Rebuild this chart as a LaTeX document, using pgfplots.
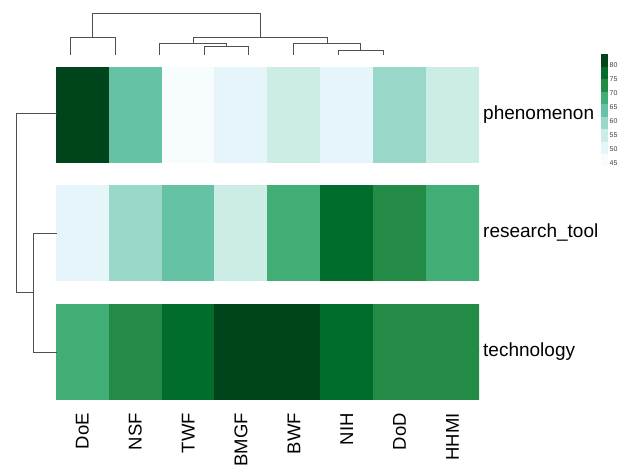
\documentclass[border=0pt]{standalone}
\usepackage{fontspec}
\setmainfont{Liberation Sans}
\usepackage{pgfplots}
\pgfplotsset{compat=1.18}
\usepackage{pgfplotstable}

% columns: 0 DoE,1 NSF,2 TWF,3 BMGF,4 BWF,5 NIH,6 DoD,7 HHMI
\pgfplotstableread{
x y c
0 260.75 82
1 260.75 64
2 260.75 46
3 260.75 51
4 260.75 55
5 260.75 50
6 260.75 60
7 260.75 55
0 308.25 82
1 308.25 64
2 308.25 46
3 308.25 51
4 308.25 55
5 308.25 50
6 308.25 60
7 308.25 55
}\phen
\pgfplotstableread{
x y c
0 142.75 51
1 142.75 60
2 142.75 64
3 142.75 55
4 142.75 68
5 142.75 77
6 142.75 73
7 142.75 68
0 190.25 51
1 190.25 60
2 190.25 64
3 190.25 55
4 190.25 68
5 190.25 77
6 190.25 73
7 190.25 68
}\rtool
\pgfplotstableread{
x y c
0 23.75 68
1 23.75 73
2 23.75 77
3 23.75 82
4 23.75 82
5 23.75 77
6 23.75 73
7 23.75 73
0 71.25 68
1 71.25 73
2 71.25 77
3 71.25 82
4 71.25 82
5 71.25 77
6 71.25 73
7 71.25 73
}\tech

\definecolor{dend}{RGB}{80,80,80}

\begin{document}
\begin{tikzpicture}
\begin{axis}[
  at={(56pt,-399pt)}, anchor=south west,
  scale only axis, width=423pt, height=332pt,
  xmin=-0.5, xmax=7.5, ymin=0, ymax=332,
  enlargelimits=false,
  axis line style={draw=none},
  major tick length=0pt, tick style={draw=none},
  colormap={bugn}{rgb255=(247,252,253) rgb255=(229,245,249) rgb255=(204,236,230)
    rgb255=(153,216,201) rgb255=(102,194,164) rgb255=(65,174,118)
    rgb255=(35,139,69) rgb255=(0,109,44) rgb255=(0,68,27)},
  colormap access=piecewise constant,
  point meta min=44, point meta max=84,
  xtick={0,...,7},
  xticklabels={DoE,NSF,TWF,BMGF,BWF,NIH,DoD,HHMI},
  xticklabel style={yshift=-14pt, rotate=90, anchor=east, inner sep=0pt,
    font=\fontsize{18.5}{20}\selectfont},
  ytick={47.5,166.5,284.5},
  yticklabels={technology,research\_tool,phenomenon},
  yticklabel pos=right,
  yticklabel style={anchor=west, inner sep=0pt, xshift=4pt,
    font=\fontsize{19}{22}\selectfont},
  colorbar,
  colorbar style={
    at={(parent axis.north east)}, anchor=north west,
    xshift=113pt, yshift=13pt,
    scale only axis, width=7pt, height=112pt,
    axis line style={draw=none},
    major tick length=0pt, tick style={draw=none},
    ytick={45,50,...,80},
    yticklabel style={font=\fontsize{7}{8}\selectfont, inner sep=0pt, xshift=2pt,
      text=black!75},
    /pgf/number format/assume math mode=true,
  },
]
\addplot[matrix plot*, mesh/cols=8, point meta=explicit] table[x=x, y=y, meta=c] {\phen};
\addplot[matrix plot*, mesh/cols=8, point meta=explicit] table[x=x, y=y, meta=c] {\rtool};
\addplot[matrix plot*, mesh/cols=8, point meta=explicit] table[x=x, y=y, meta=c] {\tech};
\end{axis}

\begin{axis}[
  at={(0pt,0pt)}, anchor=north west,
  scale only axis, width=618pt, height=465pt,
  xmin=0, xmax=618, ymin=0, ymax=465, y dir=reverse,
  hide axis, clip=false,
]
% column dendrogram
\addplot[dend, line width=0.9pt] coordinates {(92.5,37) (92.5,13) (260,13) (260,37)};
\addplot[dend, line width=0.9pt] coordinates {(70,55) (70,37) (115,37) (115,55)};
\addplot[dend, line width=0.9pt] coordinates {(193,43) (193,37) (327,37) (327,43)};
\addplot[dend, line width=0.9pt] coordinates {(159,55) (159,43) (226,43) (226,46)};
\addplot[dend, line width=0.9pt] coordinates {(204,55) (204,46) (248,46) (248,55)};
\addplot[dend, line width=0.9pt] coordinates {(293,55) (293,43) (360.5,43) (360.5,50)};
\addplot[dend, line width=0.9pt] coordinates {(338,55) (338,50) (383,50) (383,55)};
% row dendrogram
\addplot[dend, line width=0.9pt] coordinates {(57,113) (16,113) (16,292) (33,292)};
\addplot[dend, line width=0.9pt] coordinates {(57,233) (33,233) (33,352) (57,352)};
\end{axis}
\pgfresetboundingbox
\path (0pt,0pt) rectangle (618pt,-465pt);
\end{tikzpicture}
\end{document}
